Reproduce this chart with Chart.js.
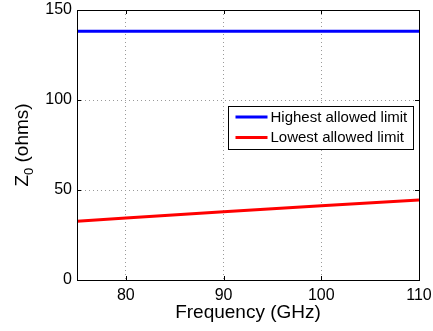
<!DOCTYPE html>
<html>
<head>
<meta charset="utf-8">
<script src="https://cdn.jsdelivr.net/npm/chart.js@4/dist/chart.umd.min.js"></script>
<style>
  html, body { margin: 0; padding: 0; background: #fff; }
  #wrap { width: 433px; height: 331px; }
</style>
</head>
<body>
<div id="wrap"><canvas id="c"></canvas></div>
<script>
// Data
const freqs = [75, 80, 90, 100, 110];
const highLimit = [138.2, 138.2, 138.2, 138.2, 138.2];
const lowLimit = [32.7, 34.4, 37.9, 41.3, 44.5];
const xTicks = [80, 90, 100, 110];
const yTicks = [0, 50, 100, 150];

const FONT = "'Liberation Sans', Arial, Helvetica, sans-serif";

// Axis box, inward tick marks, y title with subscript, boxed legend
const matlabLook = {
    id: 'matlabLook',
    afterDatasetsDraw(chart) {
        const ctx = chart.ctx;
        const a = chart.chartArea;
        const xs = chart.scales.x, ys = chart.scales.y;
        ctx.save();
        ctx.strokeStyle = '#000';
        ctx.lineWidth = 1;
        ctx.beginPath();
        xTicks.forEach(v => {
            const px = Math.round(xs.getPixelForValue(v)) + 0.5;
            ctx.moveTo(px, a.bottom); ctx.lineTo(px, a.bottom - 4);
            ctx.moveTo(px, a.top); ctx.lineTo(px, a.top + 4);
        });
        yTicks.forEach(v => {
            const py = Math.round(ys.getPixelForValue(v)) + 0.5;
            ctx.moveTo(a.left, py); ctx.lineTo(a.left + 4, py);
            ctx.moveTo(a.right, py); ctx.lineTo(a.right - 4, py);
        });
        ctx.stroke();
        ctx.strokeRect(Math.round(a.left) + 0.5, Math.round(a.top) + 0.5,
            Math.round(a.right - a.left), Math.round(a.bottom - a.top));

        // legend
        const lx = 228.5, ly = 106.5, lw = 185, lh = 43;
        ctx.fillStyle = '#fff';
        ctx.fillRect(lx, ly, lw, lh);
        ctx.strokeRect(lx, ly, lw, lh);
        ctx.font = '15px ' + FONT;
        ctx.textBaseline = 'middle';
        chart.data.datasets.forEach((ds, i) => {
            const yy = ly + 10.5 + i * 20.5;
            ctx.strokeStyle = ds.borderColor;
            ctx.lineWidth = 3;
            ctx.beginPath();
            ctx.moveTo(lx + 7, yy); ctx.lineTo(lx + 39, yy);
            ctx.stroke();
            ctx.fillStyle = '#000';
            ctx.fillText(ds.label, lx + 42, yy + 0.5);
        });

        // y title: Z_0 (ohms)
        ctx.translate(23, (a.top + a.bottom) / 2);
        ctx.rotate(-Math.PI / 2);
        ctx.fillStyle = '#000';
        ctx.textBaseline = 'middle';
        const big = '19px ' + FONT, small = '13px ' + FONT;
        ctx.font = big; const wZ = ctx.measureText('Z').width;
        ctx.font = small; const w0 = ctx.measureText('0').width;
        ctx.font = big; const wR = ctx.measureText(' (ohms)').width;
        let x0 = -(wZ + w0 + wR) / 2;
        ctx.font = big; ctx.fillText('Z', x0, 0);
        ctx.font = small; ctx.fillText('0', x0 + wZ, 6);
        ctx.font = big; ctx.fillText(' (ohms)', x0 + wZ + w0, 0);
        ctx.restore();
    }
};

new Chart(document.getElementById('c'), {
    type: 'line',
    data: {
        datasets: [
            {
                label: 'Highest allowed limit',
                data: freqs.map((f, i) => ({ x: f, y: highLimit[i] })),
                borderColor: '#0000ff',
                borderWidth: 3,
                pointRadius: 0,
                fill: false
            },
            {
                label: 'Lowest allowed limit',
                data: freqs.map((f, i) => ({ x: f, y: lowLimit[i] })),
                borderColor: '#ff0000',
                borderWidth: 3,
                pointRadius: 0,
                fill: false
            }
        ]
    },
    options: {
        responsive: true,
        maintainAspectRatio: false,
        animation: false,
        layout: { padding: { top: 10, right: 14, left: 0, bottom: 0 } },
        plugins: {
            legend: { display: false },
            tooltip: { enabled: false }
        },
        scales: {
            x: {
                type: 'linear',
                min: 75,
                max: 110,
                afterBuildTicks: s => { s.ticks = xTicks.map(v => ({ value: v })); },
                afterFit: s => {
                    s.height = 51;
                    s.paddingLeft = 0;
                    s.paddingRight = 0;
                },
                grid: {
                    color: '#9a9a9a',
                    lineWidth: 1,
                    drawTicks: false
                },
                border: { display: false, dash: [1, 3] },
                ticks: {
                    color: '#000',
                    padding: 6,
                    maxRotation: 0,
                    font: { family: FONT, size: 16 }
                },
                title: {
                    display: true,
                    text: 'Frequency (GHz)',
                    color: '#000',
                    padding: { top: 0, bottom: 7 },
                    font: { family: FONT, size: 19 }
                }
            },
            y: {
                min: 0,
                max: 150,
                afterBuildTicks: s => { s.ticks = yTicks.map(v => ({ value: v })); },
                afterFit: s => {
                    s.width = 77;
                    s.paddingTop = 0;
                    s.paddingBottom = 0;
                },
                grid: {
                    color: '#9a9a9a',
                    lineWidth: 1,
                    drawTicks: false
                },
                border: { display: false, dash: [1, 3] },
                ticks: {
                    color: '#000',
                    padding: 5,
                    font: { family: FONT, size: 16 }
                }
            }
        }
    },
    plugins: [matlabLook]
});
</script>
</body>
</html>
